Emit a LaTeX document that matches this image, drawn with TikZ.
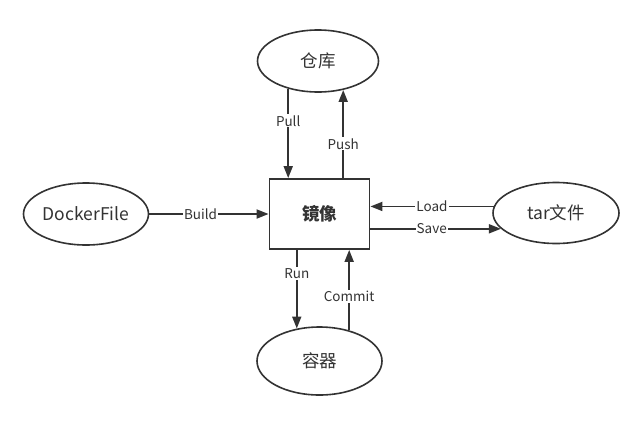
\documentclass[tikz,border=0pt]{standalone}
\usepackage{fontspec}
\setmainfont{Noto Sans CJK SC}
\usepackage{xcolor}
\definecolor{ink}{RGB}{51, 51, 51}
\usepackage{tikz}
\usetikzlibrary{shapes.geometric,arrows.meta,positioning}

\begin{document}
\begin{tikzpicture}[
  x=1pt, y=-1pt,
  oval/.style={draw=ink, ellipse, line width=1.6pt, text=ink, font=\fontsize{17.5}{19}\selectfont, inner sep=0pt, fill=white},
  imgbox/.style={draw=ink, line width=1.8pt, minimum width=100pt, minimum height=70pt, text=ink, font=\fontsize{17.5}{19}\selectfont\bfseries},
  arrow/.style={-{Triangle[length=12pt, width=9pt]}, line width=1.8pt, color=ink},
  tag/.style={fill=white, inner sep=1pt, text=ink, font=\fontsize{13.5}{15}\selectfont}
]
\useasboundingbox (0,0) rectangle (644,421);

\node[imgbox] (img) at (319.5,214) {镜像};
\node[oval, minimum width=121pt, minimum height=62pt] (repo) at (318,61) {仓库};
\node[oval, minimum width=125pt, minimum height=62pt] (dock) at (86,214) {DockerFile};
\node[oval, minimum width=126pt, minimum height=61pt] (tar) at (556,213) {tar文件};
\node[oval, minimum width=125pt, minimum height=68pt] (ctr) at (319.5,361) {容器};

\draw[arrow] (repo.223.2) -- node[tag, pos=0.36] {Pull} (img.north -| repo.223.2);
\draw[arrow] (img.north -| repo.311.6) -- node[tag, pos=0.39] {Push} (repo.311.6);
\draw[arrow] (dock) -- node[tag, pos=0.43] {Build} (img);
\draw[arrow] (tar.174.5) -- node[tag, pos=0.5] {Load} (img.east |- tar.174.5);
\draw[arrow] (img.east |- tar.196.6) -- node[tag, pos=0.47] {Save} (tar.196.6);
\draw[arrow] (img.south -| ctr.125.4) -- node[tag, pos=0.3] {Run} (ctr.125.4);
\draw[arrow] (ctr.46.8) -- node[tag, pos=0.42] {Commit} (img.south -| ctr.46.8);
\end{tikzpicture}
\end{document}
